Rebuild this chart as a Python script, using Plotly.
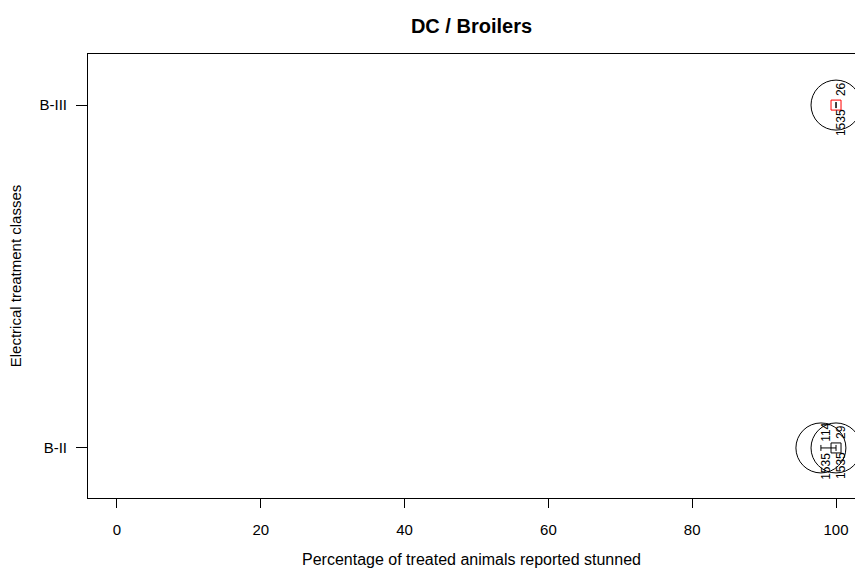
import plotly.graph_objects as go

# Data
categories = ["B-II", "B-III"]
circle_class = ["B-II", "B-II", "B-III"]
circle_pct = [97.9, 100.0, 100.0]
label_below = ["1535", "1535", "1535"]
label_above = ["114", "29", "26"]

mean_class = ["B-II", "B-III"]
mean_pct = [100.0, 100.0]
mean_color = ["black", "red"]
mean_err_minus = [2.1, 0.0]

x_ticks = [0, 20, 40, 60, 80, 100]

FONT = "Liberation Sans, Arial, sans-serif"

fig = go.Figure()

fig.add_trace(go.Scatter(
    x=circle_pct, y=circle_class, mode="markers",
    marker=dict(symbol="circle-open", size=50, color="black",
                line=dict(width=1, color="black")),
    hoverinfo="skip", showlegend=False, cliponaxis=False,
))

for xc, yc, col, em in zip(mean_pct, mean_class, mean_color, mean_err_minus):
    fig.add_trace(go.Scatter(
        x=[xc], y=[yc], mode="markers",
        marker=dict(symbol="square-open", size=10, color=col,
                    line=dict(width=1, color=col)),
        error_x=dict(type="data", symmetric=False, array=[0], arrayminus=[em],
                     color="black", thickness=1, width=3),
        hoverinfo="skip", showlegend=False, cliponaxis=False,
    ))

for xc, yc, lb, la in zip(circle_pct, circle_class, label_below, label_above):
    fig.add_annotation(x=xc, y=yc, text=lb, textangle=-90, showarrow=False,
                       xshift=5, yshift=-18,
                       font=dict(family=FONT, size=12, color="black"))
    fig.add_annotation(x=xc, y=yc, text=la, textangle=-90, showarrow=False,
                       xshift=5, yshift=16,
                       font=dict(family=FONT, size=12, color="black"))

fig.update_layout(
    width=855, height=571,
    margin=dict(l=88, r=0, t=54, b=73),
    paper_bgcolor="white", plot_bgcolor="white",
    font=dict(family=FONT, size=15, color="black"),
    title=dict(text="<b>DC / Broilers</b>", x=0.5, xref="paper",
               y=1 - 25.5 / 571, yref="container", yanchor="middle",
               font=dict(family=FONT, size=20, color="black")),
    xaxis=dict(
        range=[-4.03, 102.64], tickvals=x_ticks,
        ticktext=[str(v) for v in x_ticks],
        showgrid=False, zeroline=False, showline=True, mirror=True,
        linecolor="black", linewidth=1, ticks="outside", ticklen=9,
        tickcolor="black", ticklabelstandoff=9,
        tickfont=dict(family=FONT, size=15),
        title=dict(text="Percentage of treated animals reported stunned",
                   standoff=16, font=dict(family=FONT, size=16)),
    ),
    yaxis=dict(
        type="category", categoryorder="array", categoryarray=categories,
        range=[-0.146, 1.149],
        showgrid=False, zeroline=False, showline=True, mirror=False,
        linecolor="black", linewidth=1, ticks="outside", ticklen=11,
        tickcolor="black", ticklabelstandoff=6,
        tickfont=dict(family=FONT, size=15),
        title=dict(text="Electrical treatment classes", standoff=14,
                   font=dict(family=FONT, size=15)),
    ),
)

fig.write_html("out.html", config={"displayModeBar": False},
               post_script="document.body.style.margin='0';")
